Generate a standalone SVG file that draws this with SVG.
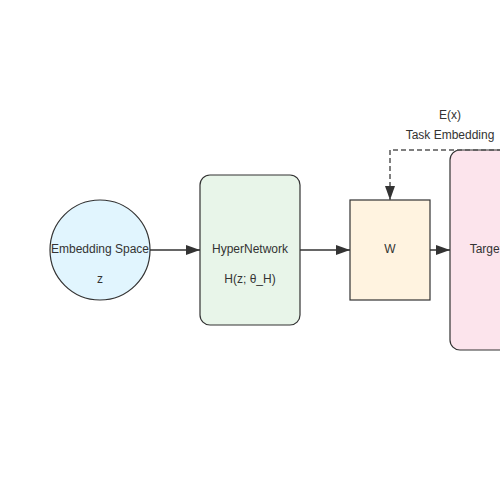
<svg xmlns="http://www.w3.org/2000/svg" width="500" height="500" viewBox="0 0 500 500">
<defs>
<marker id="arrBig" viewBox="0 0 14 10" refX="14" refY="5" markerWidth="14" markerHeight="10" markerUnits="userSpaceOnUse" orient="auto">
<path d="M0,0 L14,5 L0,10 z" fill="#333"/>
</marker>
</defs>
<style>
.node{stroke:#333;stroke-width:1.2}
.lbl{font-family:"Liberation Sans",Arial,sans-serif;font-size:12px;fill:#333;text-anchor:middle;dominant-baseline:middle}
.edge{stroke:#333;stroke-width:1.5;fill:none}
.dash{stroke:#555;stroke-width:1.5;fill:none;stroke-dasharray:5,3}
</style>
<rect width="500" height="500" fill="#fff"/>
<g id="connectors">
<line class="edge" x1="150" y1="250" x2="200" y2="250" marker-end="url(#arrBig)"/>
<line class="edge" x1="300" y1="250" x2="350" y2="250" marker-end="url(#arrBig)"/>
<line class="edge" x1="430" y1="250" x2="450" y2="250" marker-end="url(#arrBig)"/>
</g>
<g id="embedding">
<circle class="node" cx="100" cy="250" r="50" fill="#e1f5fe"/>
<text class="lbl" x="100" y="250">Embedding Space</text>
<text class="lbl" x="100" y="280">z</text>
</g>
<g id="hypernetwork">
<rect class="node" x="200" y="175" width="100" height="150" rx="10" fill="#e8f5e9"/>
<text class="lbl" x="250" y="250">HyperNetwork</text>
<text class="lbl" x="250" y="280">H(z; θ_H)</text>
</g>
<g id="w">
<rect class="node" x="350" y="200" width="80" height="100" fill="#fff3e0"/>
<text class="lbl" x="390" y="250">W</text>
</g>
<g id="target">
<rect class="node" x="450" y="150" width="120" height="200" rx="10" fill="#fce4ec"/>
<text class="lbl" x="510" y="250">Target Network</text>
</g>
<g id="task-connector">
<path class="dash" d="M510,150 L390,150 L390,200" marker-end="url(#arrBig)"/>
<text class="lbl" x="450" y="116">E(x)</text>
<text class="lbl" x="450" y="136">Task Embedding</text>
</g>
</svg>
